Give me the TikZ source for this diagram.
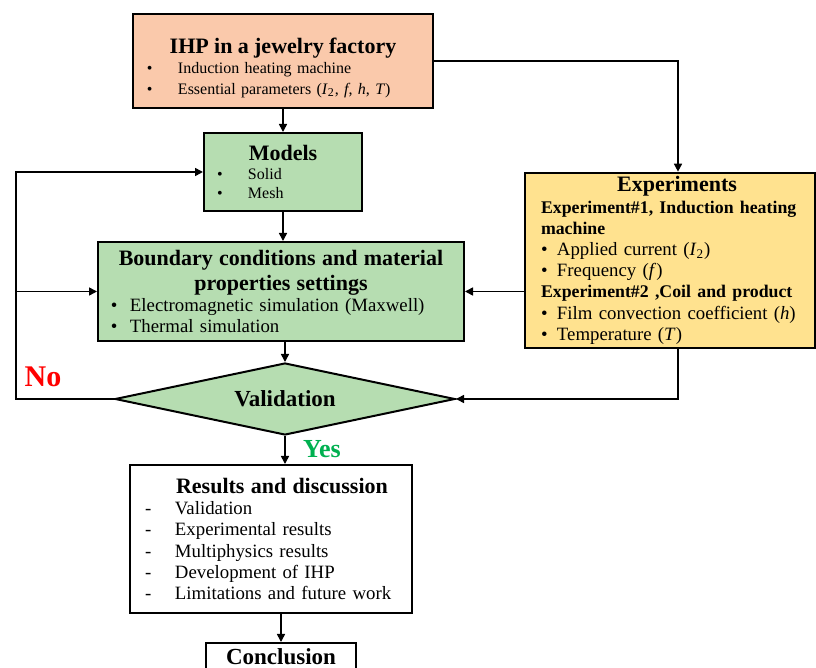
\documentclass[tikz,border=0pt]{standalone}
\usepackage{fontspec}
\setmainfont{Liberation Serif}
\usetikzlibrary{positioning}
\usetikzlibrary{shapes.geometric}
\usetikzlibrary{arrows.meta}

\definecolor{peach}{HTML}{FAC9AB}
\definecolor{sage}{HTML}{B6DDB1}
\definecolor{sand}{HTML}{FFE28F}
\definecolor{yesgreen}{HTML}{00B050}

\hyphenpenalty=10000
\newcommand{\bul}[2]{\makebox[#1][l]{\textbullet}#2}
\newcommand{\dsh}[1]{\makebox[15pt][l]{-}#1}
\newcommand{\var}[1]{\textit{#1}}
\newcommand{\boxtitle}[1]{{\centering\fontsize{11}{12.5}\selectfont\bfseries #1\par}}
\newcommand{\subhead}[1]{\mbox{\fontsize{8.9}{10.6}\selectfont\bfseries #1}}

\tikzset{
  stage/.style={draw, line width=1pt, align=left, inner ysep=2pt,
    font=\fontsize{9.4}{10.6}\selectfont},
  flow/.style={line width=0.8pt, -{Triangle[length=4pt,width=4pt]}},
  verdict/.style={font=\bfseries, inner sep=0pt}
}

\begin{document}
\begin{tikzpicture}[x=0.5pt, y=-0.5pt]
  \useasboundingbox (0,0) rectangle (816,668);

  % boxes
  \node[stage, fill=peach, text width=136pt, inner xsep=7pt, minimum height=47pt,
        font=\fontsize{8}{10.1}\selectfont] (ihp) at (283,61)
    {\par\vspace*{2.2pt}\boxtitle{IHP in a jewelry factory}
     \bul{15.5pt}{Induction heating machine}\\
     \bul{15.5pt}{Essential parameters (\var{I}\textsubscript{2}, \var{f}, \var{h}, \var{T})}};

  \node[stage, fill=sage, text width=66pt, inner xsep=6.5pt, minimum height=39pt,
        font=\fontsize{8}{9.6}\selectfont] (models) at (283,172)
    {\boxtitle{Models}
     \bul{15.5pt}{Solid}\\
     \bul{15.5pt}{Mesh}};

  \node[stage, fill=sage, text width=170pt, inner xsep=6.5pt, minimum height=49.5pt] (bound) at (281,291.5)
    {\boxtitle{Boundary conditions and material\\properties settings}
     \bul{9.5pt}{Electromagnetic simulation (Maxwell)}\\
     \bul{9.5pt}{Thermal simulation}};

  \node[stage, fill=sand, text width=129pt, inner xsep=8pt, minimum height=87.5pt] (exp) at (670,260.5)
    {\boxtitle{\hspace*{7pt}Experiments}
     \subhead{Experiment\#1, Induction heating}\\
     \subhead{machine}\\
     \bul{8pt}{Applied current (\var{I}\textsubscript{2})}\\
     \bul{8pt}{Frequency (\var{f})}\\
     \subhead{Experiment\#2 ,Coil and product}\\
     \bul{8pt}{Film convection coefficient (\var{h})}\\
     \bul{8pt}{Temperature (\var{T})}};

  \node[draw, line width=1pt, fill=sage, diamond, aspect=4.7, minimum width=170pt,
        minimum height=36pt, inner sep=0pt, font=\fontsize{11.5}{12}\selectfont\bfseries] (valid) at (285,399) {Validation};

  \node[stage, fill=white, text width=126pt, inner xsep=7.5pt, minimum height=74pt] (res) at (271,539)
    {\boxtitle{\hspace*{11pt}Results and discussion}
     \dsh{Validation}\\
     \dsh{Experimental results}\\
     \dsh{Multiphysics results}\\
     \dsh{Development of IHP}\\
     \dsh{Limitations and future work}};

  \node[stage, fill=white, anchor=north, minimum width=75pt, align=center, inner ysep=3.2pt,
        text height=7.6pt, text depth=0pt, font=\fontsize{11.5}{12}\selectfont\bfseries] (concl) at (281,642) {Conclusion};

  % connectors
  \coordinate (back) at (16,0);
  \draw[flow] (ihp.south) -- (models.north);
  \draw[flow] (models.south) -- (models.south |- bound.north);
  \draw[flow] (valid.north |- bound.south) -- (valid.north);
  \draw[flow] (valid.south) -- (valid.south |- res.north);
  \draw[flow] (res.south -| concl.north) -- (concl.north);
  \draw[flow] (ihp.east) -| ([xshift=4pt]exp.north);
  \draw[flow] (exp.west |- bound.east) -- (bound.east);
  \draw[flow] ([xshift=4pt]exp.south) |- (valid.east);
  \draw[flow] (valid.west) -- (valid.west -| back) |- (models.west);
  \draw[flow] (back |- bound.west) -- (bound.west);

  % labels
  \node[verdict, text=red, font=\fontsize{15}{16}\selectfont\bfseries] (noLbl) at (43,377) {No};
  \node[verdict, text=yesgreen, font=\fontsize{13}{14}\selectfont\bfseries] (yesLbl) at (322,449) {Yes};
\end{tikzpicture}
\end{document}
